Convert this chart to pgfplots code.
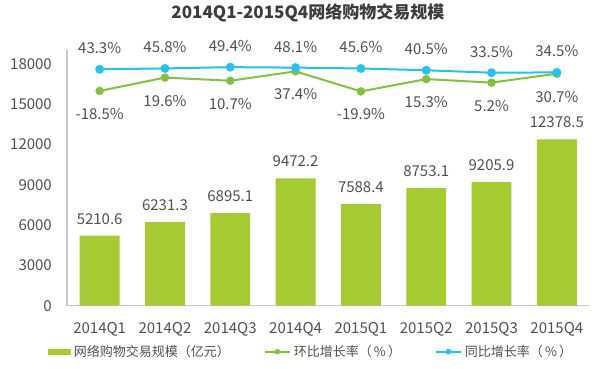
\documentclass[border=0pt]{standalone}
\usepackage{pgfplots}
\pgfplotsset{compat=1.18}
\usepackage{fontspec}
\setmainfont{Noto Sans CJK SC}
\definecolor{barg}{RGB}{166,202,50}
\definecolor{lng}{RGB}{132,194,62}
\definecolor{lnb}{RGB}{32,196,240}
\definecolor{txt}{RGB}{80,80,80}
\definecolor{ttl}{RGB}{60,60,60}
\definecolor{axg}{RGB}{200,200,200}
\begin{document}
\begin{tikzpicture}
\path[use as bounding box] (0,0) rectangle (600bp,369bp);
\begin{axis}[
  at={(67bp,63.3bp)}, anchor=south west, scale only axis,
  width=522.5bp, height=255.2bp,
  xmin=-0.5, xmax=7.5, ymin=0, ymax=19000,
  xtick={0,1,2,3,4,5,6,7},
  xticklabels={2014Q1,2014Q2,2014Q3,2014Q4,2015Q1,2015Q2,2015Q3,2015Q4},
  ytick={0,3000,6000,9000,12000,15000,18000},
  scaled y ticks=false,
  major tick length=0pt,
  axis x line*=bottom, axis y line*=left,
  axis line style={draw=axg, line width=1.3bp, -},
  tick label style={font=\fontsize{15bp}{18bp}\selectfont, text=txt, inner sep=0pt},
  yticklabel style={anchor=east, xshift=-15bp, /pgf/number format/1000 sep={}},
  xticklabel style={anchor=center, yshift=-24bp},
  /pgf/number format/assume math mode=true,
  clip=false,
  ybar, bar width=0.61,
  legend columns=3,
  legend style={at={(axis description cs:-0.0364,-0.18)}, anchor=west, draw=none, fill=none, inner sep=0pt, outer sep=0pt,
    font=\fontsize{13bp}{15bp}\selectfont, text=txt, nodes={inner sep=0pt},
    /tikz/every odd column/.append style={column sep=3bp},
    /tikz/every even column/.append style={column sep=34bp}},
]
\addplot[fill=barg, draw=none,
  nodes near coords={\pgfmathprintnumber[fixed,fixed zerofill,precision=1,1000 sep={}]{\pgfplotspointmeta}},
  every node near coord/.append style={font=\fontsize{15bp}{18bp}\selectfont, text=txt, anchor=center, yshift=17bp, inner sep=0pt},
  legend image code/.code={\fill[barg] (0bp,-3bp) rectangle (23bp,3bp);}
] coordinates {(0,5210.6)(1,6231.3)(2,6895.1)(3,9472.2)(4,7588.4)(5,8753.1)(6,9205.9)(7,12378.5)};
\addlegendentry{网络购物交易规模（亿元）}
\addlegendimage{legend image code/.code={\draw[lng, line width=1.8bp] (0bp,0bp) -- (25bp,0bp); \fill[lng] (12.5bp,0bp) circle (2.6bp);}}
\addlegendentry{环比增长率（\,\%\,）}
\addlegendimage{legend image code/.code={\draw[lnb, line width=1.8bp] (0bp,0bp) -- (25bp,0bp); \fill[lnb] (12.5bp,0bp) circle (2.6bp);}}
\addlegendentry{同比增长率（\,\%\,）}
\node[anchor=center, inner sep=0pt, font=\bfseries\fontsize{17bp}{20bp}\selectfont, text=ttl]
  at (axis description cs:0.461,1.149) {2014Q1-2015Q4网络购物交易规模};
\end{axis}
\begin{axis}[
  at={(67bp,63.3bp)}, anchor=south west, scale only axis,
  width=522.5bp, height=255.2bp,
  xmin=-0.5, xmax=7.5, ymin=-632, ymax=97,
  axis lines=none, clip=false,
  /pgf/number format/assume math mode=true,
]
\addplot[lng, line width=2bp, mark=*, mark size=3.2bp,
  nodes near coords={\pgfmathprintnumber[fixed,fixed zerofill,precision=1]{\pgfplotspointmeta}\%},
  every node near coord/.append style={font=\fontsize{15bp}{18bp}\selectfont, text=txt, anchor=center, yshift=-23bp, inner sep=0pt}
] coordinates {(0,-18.5)(1,19.6)(2,10.7)(3,37.4)(4,-19.9)(5,15.3)(6,5.2)(7,30.7)};
\addplot[lnb, line width=2bp, mark=*, mark size=3.4bp,
  nodes near coords={\pgfmathprintnumber[fixed,fixed zerofill,precision=1]{\pgfplotspointmeta}\%},
  every node near coord/.append style={font=\fontsize{15bp}{18bp}\selectfont, text=txt, anchor=center, yshift=21bp, inner sep=0pt}
] coordinates {(0,43.3)(1,45.8)(2,49.4)(3,48.1)(4,45.6)(5,40.5)(6,33.5)(7,34.5)};
\end{axis}
\end{tikzpicture}
\end{document}
